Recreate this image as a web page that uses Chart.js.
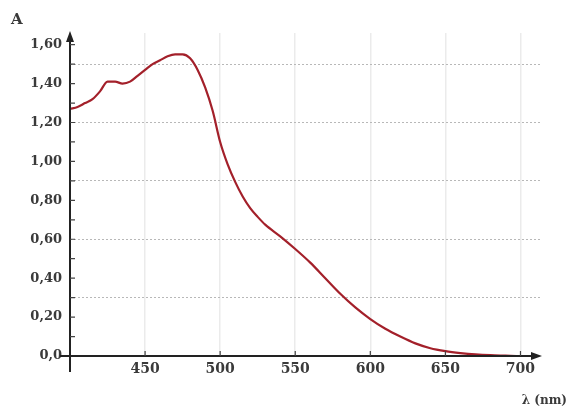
<!DOCTYPE html>
<html>
<head>
<meta charset="utf-8">
<script src="https://cdn.jsdelivr.net/npm/chart.js@4"></script>
<style>
  html, body { margin: 0; padding: 0; background: #fff; }
  #wrap { position: relative; width: 569px; height: 410px; }
</style>
</head>
<body>
<div id="wrap"><canvas id="chart" width="569" height="410"></canvas></div>
<script>
"use strict";

// wavelength (nm) and absorbance
const WAVELENGTHS = [400, 405, 410, 415, 420, 425, 430, 435, 440, 445, 450, 455, 460, 465, 470, 475, 480, 485, 490, 495,
  500, 505, 510, 515, 520, 525, 530, 540, 550, 560, 570, 580, 590, 600, 610, 620, 630, 640, 650, 660, 670, 680, 690, 700, 710];
const ABSORBANCE = [1.27, 1.28, 1.30, 1.32, 1.36, 1.41, 1.41, 1.40, 1.41, 1.44, 1.47, 1.50, 1.52, 1.54, 1.55, 1.55, 1.53, 1.47, 1.38, 1.26,
  1.10, 0.985, 0.895, 0.82, 0.76, 0.715, 0.675, 0.615, 0.55, 0.48, 0.40, 0.32, 0.25, 0.19, 0.14, 0.10, 0.065, 0.04, 0.025, 0.015, 0.008, 0.004, 0.002, 0.0, 0.0];

const X_MIN = 400, X_MAX = 713, X_STEP = 50;
const Y_MIN = 0, Y_MAX = 1.66, Y_STEP = 0.1;
const Y_LABEL_EVERY = 0.2, Y_GRID_EVERY = 0.3;

const FONT = "'DejaVu Serif', serif";
const TEXT = "#3a3a3a";

function isMultiple(v, step) {
  const r = v / step;
  return Math.abs(r - Math.round(r)) < 1e-6;
}

function yLabel(v) {
  if (Math.abs(v) < 1e-9) return "0,0";
  return v.toFixed(2).replace(".", ",");
}

// axes with arrows, small tick marks and the axis titles
const axesPlugin = {
  id: "axes",
  afterDraw(chart) {
    const { ctx, scales } = chart;
    const x = scales.x, y = scales.y;
    const x0 = x.getPixelForValue(X_MIN);
    const y0 = y.getPixelForValue(0);
    const xEnd = x.getPixelForValue(X_MAX);
    const yTop = y.getPixelForValue(Y_MAX);
    ctx.save();
    ctx.strokeStyle = "#222";
    ctx.fillStyle = "#222";
    ctx.lineWidth = 2;
    ctx.beginPath();
    ctx.moveTo(x0, y0 + 16);
    ctx.lineTo(x0, yTop + 6);
    ctx.moveTo(x0 - 10, y0);
    ctx.lineTo(xEnd - 6, y0);
    ctx.stroke();
    // arrow heads
    ctx.beginPath();
    ctx.moveTo(x0, yTop - 2);
    ctx.lineTo(x0 - 4, yTop + 9);
    ctx.lineTo(x0 + 4, yTop + 9);
    ctx.closePath();
    ctx.fill();
    ctx.beginPath();
    ctx.moveTo(xEnd + 2, y0);
    ctx.lineTo(xEnd - 9, y0 - 4);
    ctx.lineTo(xEnd - 9, y0 + 4);
    ctx.closePath();
    ctx.fill();
    // tick marks
    ctx.lineWidth = 1.2;
    ctx.strokeStyle = "#444";
    ctx.beginPath();
    for (const t of y.ticks) {
      if (t.value <= 0) continue;
      const py = y.getPixelForValue(t.value);
      ctx.moveTo(x0, py);
      ctx.lineTo(x0 + 5, py);
    }
    for (const t of x.ticks) {
      if (t.value <= X_MIN) continue;
      const px = x.getPixelForValue(t.value);
      ctx.moveTo(px, y0);
      ctx.lineTo(px, y0 - 5);
    }
    ctx.stroke();
    // axis titles
    ctx.fillStyle = TEXT;
    ctx.font = "bold 15px " + FONT;
    ctx.textAlign = "left";
    ctx.textBaseline = "alphabetic";
    ctx.fillText("A", 11, 24);
    ctx.font = "bold 12px " + FONT;
    ctx.textAlign = "right";
    ctx.fillText("\u03bb (nm)", 567, 404);
    ctx.restore();
  },
};

new Chart(document.getElementById("chart"), {
  type: "scatter",
  data: {
    datasets: [{
      data: WAVELENGTHS.map((w, i) => ({ x: w, y: ABSORBANCE[i] })),
      showLine: true,
      borderColor: "#a3202a",
      borderWidth: 2.2,
      pointRadius: 0,
      cubicInterpolationMode: "monotone",
    }],
  },
  options: {
    responsive: false,
    animation: false,
    layout: { padding: { top: 33, right: 29, left: 0, bottom: 0 } },
    plugins: { legend: { display: false }, tooltip: { enabled: false } },
    scales: {
      x: {
        type: "linear",
        min: X_MIN,
        max: X_MAX,
        afterBuildTicks: (s) => {
          s.ticks = [];
          for (let v = X_MIN; v <= X_MAX; v += X_STEP) s.ticks.push({ value: v });
        },
        afterFit: (s) => { s.height = 54; },
        border: { display: false },
        grid: {
          drawTicks: false,
          color: (c) => (c.tick && c.tick.value > X_MIN ? "#ebebeb" : "rgba(0,0,0,0)"),
          lineWidth: 1.5,
        },
        ticks: {
          padding: 5,
          color: TEXT,
          font: { family: FONT, size: 14, weight: "bold" },
          callback: (v) => (v > X_MIN ? String(v) : ""),
        },
      },
      y: {
        type: "linear",
        min: Y_MIN,
        max: Y_MAX,
        afterBuildTicks: (s) => {
          s.ticks = [];
          for (let i = 0; i * Y_STEP <= Y_MAX; i++) s.ticks.push({ value: +(i * Y_STEP).toFixed(2) });
        },
        afterFit: (s) => { s.width = 70; },
        border: { display: false, dash: [2, 2] },
        grid: {
          drawTicks: false,
          color: (c) => (c.tick && c.tick.value > 0 && isMultiple(c.tick.value, Y_GRID_EVERY) ? "#b8b8b8" : "rgba(0,0,0,0)"),
          lineWidth: 1,
        },
        ticks: {
          padding: 8,
          color: TEXT,
          font: { family: FONT, size: 13, weight: "bold" },
          autoSkip: false,
          callback: (v) => (isMultiple(v, Y_LABEL_EVERY) ? yLabel(v) : ""),
        },
      },
    },
  },
  plugins: [axesPlugin],
});
</script>
</body>
</html>
